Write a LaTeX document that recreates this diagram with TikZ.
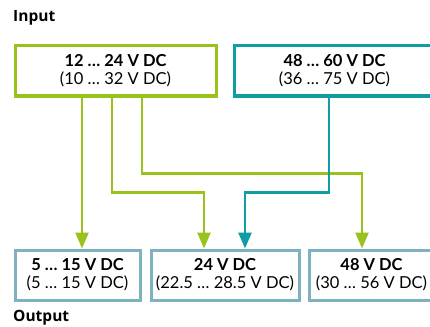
\documentclass[tikz,border=0pt]{standalone}
\usepackage{fontspec}
\setmainfont{Lato}
\newfontfamily\titlefont{Open Sans}
\usetikzlibrary{positioning,arrows.meta}
\definecolor{dcLow}{HTML}{99C21C}
\definecolor{dcHigh}{HTML}{0E9DA0}
\definecolor{dcOut}{HTML}{7FB2C1}
\tikzset{
  srcbox/.style={
    draw=#1, line width=3pt, fill=white, minimum width=201pt,
    minimum height=50pt, align=center, inner sep=0pt,
    font=\fontsize{16.5}{18}\selectfont},
  srcbox/.default=dcLow,
  outbox/.style={
    draw=dcOut, line width=3pt, fill=white, minimum width=#1,
    minimum height=50pt, align=center, inner sep=0pt,
    font=\fontsize{16.5}{18}\selectfont},
  outbox/.default=125pt,
  feed/.style={draw=#1, line width=2.6pt, -{Triangle[length=16pt,width=13pt]}},
  feed/.default=dcLow,
  grouptitle/.style={font=\titlefont\bfseries\fontsize{15.5}{17}\selectfont,
    anchor=base west, inner sep=0pt},
}
\newcommand{\voltrange}[2]{{\bfseries #1}\\#2}

\begin{document}
\begin{tikzpicture}[x=1pt,y=-1pt]
\useasboundingbox (0,0) rectangle (430,326);

% ---- supply side
\node[grouptitle] (TIN) at (13,21.7) {Input};
\node[srcbox] (INA) at (115.5,71) {\voltrange{12 … 24 V DC}{(10 … 32 V DC)}};
\node[srcbox=dcHigh] (INB) at (334.5,71) {\voltrange{48 … 60 V DC}{(36 … 75 V DC)}};

% ---- load side
\node[outbox] (OUTA) at (77.5,275) {\voltrange{5 … 15 V DC}{(5 … 15 V DC)}};
\node[outbox=148pt] (OUTB) at (225,275) {\voltrange{24 V DC}{(22.5 … 28.5 V DC)}};
\node[outbox] (OUTC) at (371.5,275) {\voltrange{48 V DC}{(30 … 56 V DC)}};
\node[grouptitle] (TOUT) at (13,321.5) {Output};

% ---- taps under the input boxes
\coordinate (G1) at ([xshift=-33.5pt]INA.south);
\coordinate (G2) at ([xshift=-3.5pt]INA.south);
\coordinate (G3) at ([xshift=26.5pt]INA.south);
\coordinate (T1) at ([xshift=-5.5pt]INB.south);

\draw[feed] (G1) -- (G1 |- OUTA.north);
\draw[feed] (G2) -- ++(0,95) -| ([xshift=-21pt]OUTB.north);
\draw[feed] (G3) -- ++(0,76) -| ([xshift=-9.5pt]OUTC.north);
\draw[feed=dcHigh] (T1) -- ++(0,95) -| ([xshift=20pt]OUTB.north);

\end{tikzpicture}
\end{document}
